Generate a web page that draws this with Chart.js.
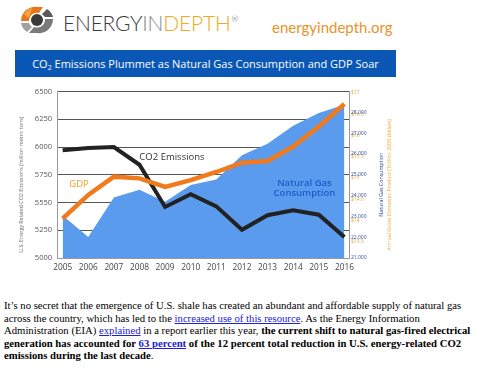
<!DOCTYPE html>
<html>
<head>
<meta charset="utf-8">
<script src="https://cdn.jsdelivr.net/npm/chart.js@4.4.1/dist/chart.umd.min.js"></script>
<style>
    body { margin: 0; background: #fff; width: 481px; height: 372px; overflow: hidden; position: relative; font-family: Lato, "Open Sans", sans-serif; }
    #logo { position: absolute; left: 16px; top: 4px; }
    #brand { position: absolute; left: 63px; top: 10px; font-size: 21px; font-weight: 300; color: #3a3a3a; letter-spacing: -0.2px; }
    #brand i { font-style: normal; color: #8a8a8a; }
    #brand span { color: #f2a81d; }
    #brand sup { font-size: 8px; color: #444; vertical-align: 9px; margin-left: 1px; }
    #site { position: absolute; left: 272px; top: 18px; font-size: 15px; color: #e8932a; }
    #banner { position: absolute; left: 15px; top: 50px; width: 381px; height: 27px; background: #0b57b6; color: #fff; font-family: "Open Sans", sans-serif; font-size: 11px; line-height: 27px; text-align: center; }
    #banner sub { font-size: 7px; vertical-align: -2px; }
    #chartBox { position: absolute; left: 0; top: 82px; }
    #story { position: absolute; left: 4px; top: 299px; width: 476px; font-family: "Liberation Serif", "Times New Roman", serif; font-size: 10.7px; line-height: 12.5px; color: #000; }
    #story a { color: #2222cc; text-decoration: underline; }
</style>
</head>
<body>
<svg id="logo" width="42" height="32" viewBox="0 0 42 32">
    <path d="M5 17 A14 14 0 0 1 21 3 L27 3 L23 9 A8 8 0 0 0 13 17 Z" fill="#e8751a"/>
    <path d="M8 10 A14 14 0 0 1 16 4 L14 11 A8 8 0 0 0 12 14 Z" fill="#f4a640"/>
    <path d="M37 15 A14 14 0 0 1 21 29 L13 29 L18 23 A8 8 0 0 0 29 15 Z" fill="#7a7a7a"/>
    <path d="M5 19 L13 19 A8 8 0 0 0 16 23 L11 28 A14 14 0 0 1 5 19 Z" fill="#a0a0a0"/>
    <path d="M29 13 L37 13 A14 14 0 0 0 31 5 L26 10 Z" fill="#5a5a5a"/>
    <circle cx="21" cy="16" r="6" fill="#3a3a3a"/>
</svg>
<div id="brand">ENERGY<i>IN</i><span>DEPTH</span><sup>®</sup></div>
<div id="site">energyindepth.org</div>
<div id="banner">CO<sub>2</sub> Emissions Plummet as Natural Gas Consumption and GDP Soar</div>
<div id="chartBox"><canvas id="chart" width="400" height="200"></canvas></div>
<div id="story">
It’s no secret that the emergence of U.S. shale has created an abundant and affordable supply of natural gas<br>
across the country, which has led to the <a href="#">increased use of this resource</a>. As the Energy Information<br>
Administration (EIA) <a href="#">explained</a> in a report earlier this year, <b>the current shift to natural gas-fired electrical<br>
generation has accounted for <a href="#">63 percent</a> of the 12 percent total reduction in U.S. energy-related CO2<br>
emissions during the last decade</b>.
</div>
<script>
const years = [2005, 2006, 2007, 2008, 2009, 2010, 2011, 2012, 2013, 2014, 2015, 2016];
const co2Emissions = [5970, 5990, 6000, 5840, 5460, 5575, 5465, 5255, 5385, 5430, 5390, 5190];
const gdpTrillions = [14.04, 14.60, 15.03, 14.99, 14.79, 14.95, 15.14, 15.36, 15.40, 15.74, 16.21, 16.74];
const gasConsumption = [22550, 21530, 23400, 23770, 23200, 23990, 24250, 25400, 25950, 26800, 27400, 27800];

const co2Ticks = ['5000', '5250', '5550', '5750', '6000', '6250', '6500'];
const gdpTicks = ['$13.5', '$14', '$14.5', '$15', '$15.5', '$16', '$16.5', '$17'];
const gasTicks = ['21,000', '22,000', '23,000', '24,000', '25,000', '26,000', '27,000', '28,000'];

const co2Min = 5000, co2Max = 6500, co2Step = 250;
const gdpMin = 13.115, gdpMax = 17.035;
const gasMin = 20532, gasMax = 28423;

function pairs(values) {
    return years.map((y, i) => ({ x: y, y: values[i] }));
}

// text notes, placed in data space (year, left axis value)
const notes = [
    { text: 'CO2 Emissions', x: 2009.27, y: 5905, color: '#333', weight: 'normal' },
    { text: 'GDP', x: 2005.64, y: 5660, color: '#f0a020', weight: 'normal' },
    { text: 'Natural Gas', x: 2014.44, y: 5672, color: '#1a5cc8', weight: '600' },
    { text: 'Consumption', x: 2014.44, y: 5585, color: '#1a5cc8', weight: '600' }
];

const notesPlugin = {
    id: 'notes',
    afterDatasetsDraw(chart) {
        const ctx = chart.ctx;
        const xs = chart.scales.x, ys = chart.scales.y;
        const area = chart.chartArea;
        ctx.save();
        ctx.textAlign = 'center';
        ctx.textBaseline = 'middle';
        notes.forEach(n => {
            ctx.font = n.weight + ' 9.5px "Open Sans", sans-serif';
            ctx.fillStyle = n.color;
            ctx.fillText(n.text, xs.getPixelForValue(n.x), ys.getPixelForValue(n.y));
        });
        const mid = (area.top + area.bottom) / 2 + 10;
        const titles = [
            { text: 'U.S. Energy Related CO2 Emissions (million metric tons)', x: 21, color: '#666' },
            { text: 'Natural Gas Consumption', x: area.right + 32, color: '#2a3f8f' },
            { text: 'Annual Gross Domestic Product (Trillion 2009 dollars)', x: area.right + 40, color: '#f0a830' }
        ];
        ctx.font = '5.3px "Open Sans", sans-serif';
        titles.forEach(t => {
            ctx.save();
            ctx.translate(t.x, mid);
            ctx.rotate(-Math.PI / 2);
            ctx.fillStyle = t.color;
            ctx.fillText(t.text, 0, 0);
            ctx.restore();
        });
        ctx.restore();
    }
};

new Chart(document.getElementById('chart'), {
    type: 'line',
    data: {
        datasets: [
            {
                label: 'Natural Gas Consumption',
                data: pairs(gasConsumption),
                yAxisID: 'y2',
                borderWidth: 0,
                backgroundColor: '#5b9bee',
                fill: 'start',
                pointRadius: 0,
                tension: 0,
                order: 3
            },
            {
                label: 'CO2 Emissions',
                data: pairs(co2Emissions),
                yAxisID: 'y',
                borderColor: '#222',
                borderWidth: 4,
                pointRadius: 0,
                tension: 0,
                order: 2
            },
            {
                label: 'GDP',
                data: pairs(gdpTrillions),
                yAxisID: 'y1',
                borderColor: '#f07a1c',
                borderWidth: 4.5,
                pointRadius: 0,
                tension: 0,
                order: 1
            }
        ]
    },
    options: {
        responsive: false,
        animation: false,
        layout: { padding: { top: 8, left: 0, right: 0, bottom: 0 } },
        plugins: { legend: { display: false }, tooltip: { enabled: false } },
        scales: {
            x: {
                type: 'linear',
                min: 2004.78,
                max: 2016.18,
                afterFit(scale) { scale.height = 24; },
                grid: { display: false, drawTicks: false },
                border: { color: '#999' },
                ticks: {
                    stepSize: 1,
                    includeBounds: false,
                    autoSkip: false,
                    maxRotation: 0,
                    padding: 5,
                    color: '#444',
                    font: { family: 'Open Sans', size: 8.3 },
                    callback: v => years.includes(v) ? String(v) : ''
                }
            },
            y: {
                position: 'left',
                min: co2Min,
                max: co2Max,
                afterFit(scale) { scale.width = 57; },
                grid: { color: '#555', lineWidth: 1, drawTicks: false },
                border: { color: '#999' },
                ticks: {
                    stepSize: co2Step,
                    padding: 5,
                    color: '#555',
                    font: { family: 'Open Sans', size: 7.5 },
                    callback: (v, i) => co2Ticks[i]
                }
            },
            y1: {
                position: 'right',
                weight: 1,
                min: gdpMin,
                max: gdpMax,
                afterFit(scale) { scale.width = 51; },
                grid: { display: false, drawTicks: false },
                border: { color: '#999' },
                ticks: {
                    stepSize: 0.5,
                    includeBounds: false,
                    padding: 2,
                    color: '#e8a33a',
                    font: { family: 'Open Sans', size: 5 },
                    callback: (v, i) => gdpTicks[i]
                }
            },
            y2: {
                // zero-width axis sharing the same column as y1; mirrored so labels are not clipped
                position: 'right',
                weight: 0,
                min: gasMin,
                max: gasMax,
                afterFit(scale) {
                    scale.width = 0;
                    scale.paddingTop = 0;
                    scale.paddingBottom = 0;
                },
                grid: { display: false, drawTicks: false },
                border: { display: false },
                ticks: {
                    mirror: true,
                    crossAlign: 'near',
                    stepSize: 1000,
                    includeBounds: false,
                    padding: 17.5,
                    color: '#2a4a9a',
                    font: { family: 'Open Sans', size: 5 },
                    callback: (v, i) => gasTicks[i]
                }
            }
        }
    },
    plugins: [notesPlugin]
});
</script>
</body>
</html>
